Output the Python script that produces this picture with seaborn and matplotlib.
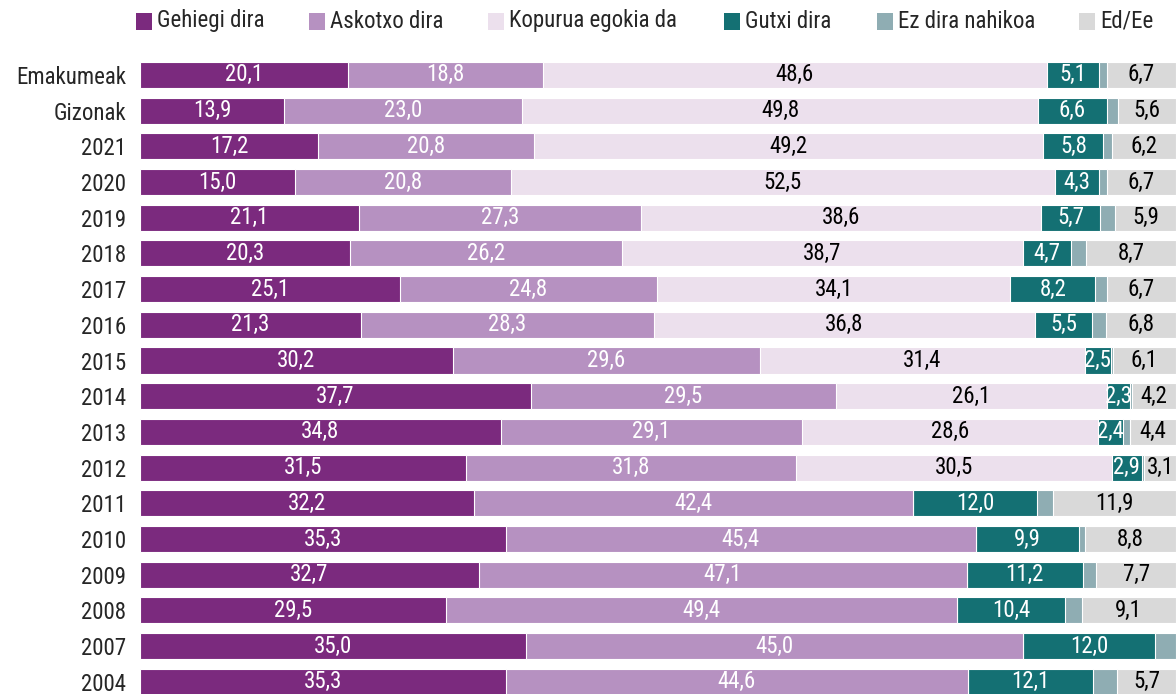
import numpy as np
import pandas as pd
import matplotlib
matplotlib.use("Agg")
import matplotlib.pyplot as plt
from matplotlib import font_manager
from matplotlib.patches import Rectangle
import seaborn as sns

# row labels, top to bottom
groups = ['Emakumeak', 'Gizonak', '2021', '2020', '2019', '2018', '2017', '2016', '2015',
          '2014', '2013', '2012', '2011', '2010', '2009', '2008', '2007', '2004']

gehiegi = [20.1, 13.9, 17.2, 15.0, 21.1, 20.3, 25.1, 21.3, 30.2, 37.7, 34.8, 31.5, 32.2, 35.3, 32.7, 29.5, 35.0, 35.3]
askotxo = [18.8, 23.0, 20.8, 20.8, 27.3, 26.2, 24.8, 28.3, 29.6, 29.5, 29.1, 31.8, 42.4, 45.4, 47.1, 49.4, 45.0, 44.6]
egokia = [48.6, 49.8, 49.2, 52.5, 38.6, 38.7, 34.1, 36.8, 31.4, 26.1, 28.6, 30.5, 0, 0, 0, 0, 0, 0]
gutxi = [5.1, 6.6, 5.8, 4.3, 5.7, 4.7, 8.2, 5.5, 2.5, 2.3, 2.4, 2.9, 12.0, 9.9, 11.2, 10.4, 12.0, 12.1]
# not labelled in the original
nahikoa = [0.7, 1.1, 0.8, 0.7, 1.4, 1.4, 1.1, 1.3, 0.2, 0.2, 0.7, 0.2, 1.5, 0.6, 1.3, 1.6, 1.9, 2.3]
ed_ee = [6.7, 5.6, 6.2, 6.7, 5.9, 8.7, 6.7, 6.8, 6.1, 4.2, 4.4, 3.1, 11.9, 8.8, 7.7, 9.1, 0, 5.7]

series_names = ['Gehiegi dira', 'Askotxo dira', 'Kopurua egokia da', 'Gutxi dira',
                'Ez dira nahikoa', 'Ed/Ee']
colors = ['#7B2A7E', '#B691C1', '#ECE0ED', '#147073', '#8FADB3', '#D9D9D9']
text_colors = ['white', 'white', 'black', 'white', None, 'black']

# pick a narrow font if there is one
font = 'DejaVu Sans'
for cand in ['Roboto Condensed', 'Liberation Sans Narrow', 'Roboto', 'Liberation Sans']:
    try:
        font_manager.findfont(cand, fallback_to_default=False)
        font = cand
        break
    except Exception:
        pass

sns.set_style("white")
plt.rcParams['font.family'] = [font, 'DejaVu Sans']

vals = np.array([gehiegi, askotxo, egokia, gutxi, nahikoa, ed_ee]).T
totals = vals.sum(axis=1, keepdims=True)
shares = vals / totals * 100  # 100% stacked
cum = shares.cumsum(axis=1)
left = cum - shares

W, H = 1176, 694
fig = plt.figure(figsize=(W / 100, H / 100), dpi=100)
ax = fig.add_axes([140 / W, 0.0, 1 - 140 / W, 1 - 57 / H])

# draw cumulative bars from the last series backwards so they stack
for i in reversed(range(len(series_names))):
    df = pd.DataFrame({'group': groups, 'value': cum[:, i]})
    sns.barplot(data=df, x='value', y='group', orient='h', color=colors[i], saturation=1,
                width=0.73, edgecolor='white', linewidth=0.8, ax=ax, errorbar=None)

# value labels
for r in range(len(groups)):
    for i in range(len(series_names)):
        v = vals[r, i]
        if text_colors[i] is None or v <= 0:
            continue
        ax.text(left[r, i] + shares[r, i] / 2, r, f"{v:.1f}".replace('.', ','),
                ha='center', va='center', color=text_colors[i], fontsize=16.5)

ax.set_xlim(0, 100)
ax.set_ylim(17.34, -0.5)
ax.set_xlabel('')
ax.set_ylabel('')
ax.set_xticks([])
ax.tick_params(axis='y', length=0, pad=10, labelsize=16.5)
for s in ax.spines.values():
    s.set_visible(False)

# legend laid out by hand along the top
legend_x = [136, 309, 488, 724, 877, 1079]
for x, c, name in zip(legend_x, colors, series_names):
    fig.add_artist(Rectangle((x / W, 1 - 30 / H), 16 / W, 17 / H, facecolor=c,
                             edgecolor='none', transform=fig.transFigure))
    fig.text((x + 21) / W, 1 - 21 / H, name, ha='left', va='center', fontsize=16.5)

fig.savefig('out.png', dpi=100)
